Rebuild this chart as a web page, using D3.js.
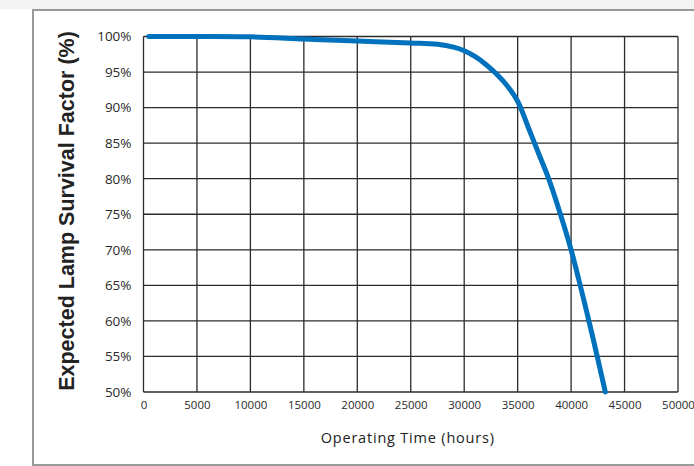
<!DOCTYPE html>
<html>
<head>
<meta charset="utf-8">
<script src="https://cdn.jsdelivr.net/npm/d3@7"></script>
<style>
  html, body { margin: 0; padding: 0; background: #fff; }
  svg { display: block; }
  .tick text { font-family: "Open Sans", sans-serif; fill: #2a2a2a; }
</style>
</head>
<body>
<svg id="chart" width="694" height="466"></svg>
<script>
// operating hours vs survival (%)
var hours    = [500, 5000, 10000, 15000, 20000, 25000, 27500, 29000, 30000, 31000, 32000, 33000, 34000, 35000, 36000, 37000, 37900, 39000, 40000, 41000, 42000, 43200];
var survival = [100, 100, 99.95, 99.65, 99.35, 99.1, 98.9, 98.5, 98.0, 97.2, 96.1, 94.75, 93.1, 90.9, 87.2, 83.4, 80, 75, 70, 64.1, 57.9, 50];

var xTicks = [0, 5000, 10000, 15000, 20000, 25000, 30000, 35000, 40000, 45000, 50000];
var yTicks = [50, 55, 60, 65, 70, 75, 80, 85, 90, 95, 100];

var svg = d3.select('#chart');
var margin = {left: 143.5, right: 16, top: 36.5, bottom: 74};
var W = 694, H = 466;

// outer frame (runs off right edge)
svg.append('rect')
    .attr('x', 0).attr('y', 0).attr('width', W).attr('height', 9)
    .attr('fill', '#f3f3f3');
svg.append('rect')
    .attr('x', 33).attr('y', 10).attr('width', W + 10).attr('height', 455)
    .attr('fill', '#fff')
    .attr('stroke', '#9a9a9a')
    .attr('stroke-width', 2);

var x = d3.scaleLinear().domain([0, 50000]).range([margin.left, W - margin.right]);
var y = d3.scaleLinear().domain([50, 100]).range([H - margin.bottom, margin.top]);

var g = svg.append('g');

// grid
g.selectAll('line.vg').data(xTicks).enter().append('line')
    .attr('class', 'vg')
    .attr('x1', (d) => x(d)).attr('x2', (d) => x(d))
    .attr('y1', y(50)).attr('y2', y(100))
    .attr('stroke', '#2b2b2b').attr('stroke-width', 1.3);
g.selectAll('line.hg').data(yTicks).enter().append('line')
    .attr('class', 'hg')
    .attr('x1', x(0)).attr('x2', x(50000))
    .attr('y1', (d) => y(d)).attr('y2', (d) => y(d))
    .attr('stroke', '#2b2b2b').attr('stroke-width', 1.3);

// axes (labels only)
var xAxis = d3.axisBottom(x).tickValues(xTicks).tickSize(0).tickPadding(9)
    .tickFormat(d3.format('d'));
svg.append('g')
    .attr('transform', 'translate(0,' + y(50) + ')')
    .call(xAxis)
    .call((s) => s.select('.domain').remove())
    .selectAll('text').style('font-size', '11.5px');

var yAxis = d3.axisLeft(y).tickValues(yTicks).tickSize(0).tickPadding(12)
    .tickFormat((d) => d + '%');
svg.append('g')
    .attr('transform', 'translate(' + x(0) + ',0)')
    .call(yAxis)
    .call((s) => s.select('.domain').remove())
    .selectAll('text').style('font-size', '13.5px');

// curve
var line = d3.line()
    .x((d, i) => x(hours[i]))
    .y((d) => y(d))
    .curve(d3.curveCatmullRom.alpha(0.5));
svg.append('path')
    .datum(survival)
    .attr('d', line)
    .attr('fill', 'none')
    .attr('stroke', '#0071bc')
    .attr('stroke-width', 5)
    .attr('stroke-linecap', 'round')
    .attr('stroke-linejoin', 'round');

// titles
svg.append('text')
    .attr('x', (x(0) + x(50000)) / 2 - 3)
    .attr('y', 443)
    .attr('text-anchor', 'middle')
    .style('font-family', '"Open Sans", sans-serif')
    .style('font-size', '14.5px')
    .style('letter-spacing', '0.8px')
    .style('fill', '#222')
    .text('Operating Time (hours)');

svg.append('text')
    .attr('transform', 'translate(74,211) rotate(-90)')
    .attr('text-anchor', 'middle')
    .style('font-family', '"Liberation Sans", Arial, sans-serif')
    .style('font-weight', 'bold')
    .style('font-size', '21.5px')
    .style('fill', '#222')
    .text('Expected Lamp Survival Factor (%)');
</script>
</body>
</html>
